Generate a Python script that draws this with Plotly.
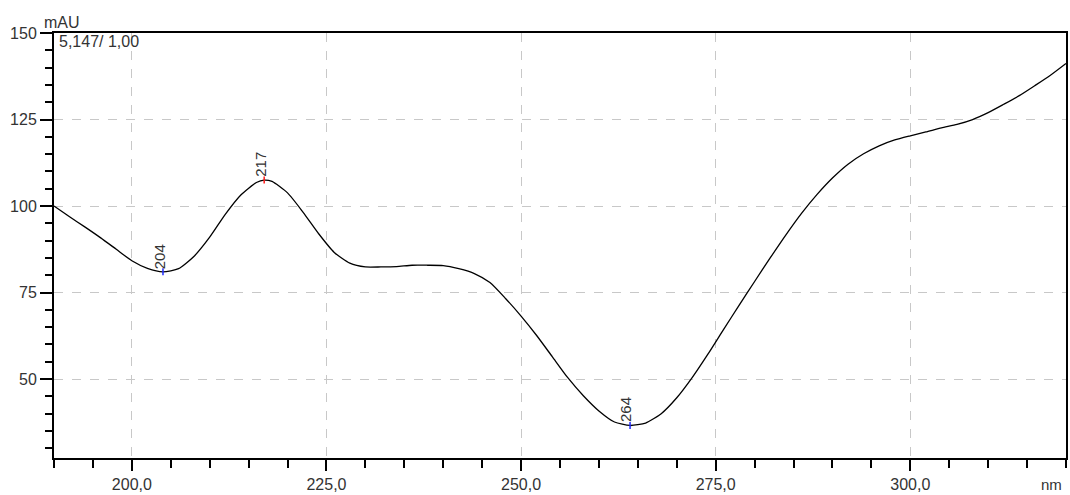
import plotly.graph_objects as go

# UV absorbance spectrum (wavelength in nm, absorbance in mAU)
wavelength = [190, 192, 194, 196, 198, 200, 202, 204, 206, 208, 210, 212, 214, 216, 217,
              218, 220, 222, 224, 226, 228, 230, 232, 234, 236, 238, 240, 242, 244, 246,
              248, 250, 252, 254, 256, 258, 260, 262, 264, 266, 268, 270, 272, 274, 276,
              278, 280, 282, 284, 286, 288, 290, 292, 294, 296, 298, 300, 302, 304, 306,
              308, 310, 312, 314, 316, 318, 320]
absorbance = [100.0, 96.9, 93.9, 90.8, 87.5, 84.2, 82.0, 81.0, 81.9, 85.5, 91.0, 97.6, 103.2, 106.8, 107.5,
              107.1, 103.8, 98.2, 92.0, 86.6, 83.5, 82.4, 82.4, 82.5, 82.9, 82.9, 82.8, 81.9, 80.5, 77.9,
              73.3, 68.2, 62.6, 56.5, 50.4, 45.2, 40.8, 37.6, 36.6, 37.3, 40.0, 44.6, 50.5, 57.2, 64.3,
              71.3, 78.2, 85.0, 91.6, 97.8, 103.3, 108.1, 112.1, 115.1, 117.4, 119.1, 120.3, 121.4, 122.6, 123.6,
              125.0, 127.0, 129.4, 131.9, 134.8, 137.8, 141.2]

# Labelled extrema: wavelength, absorbance, marker colour
peak_nm = [204, 217, 264]
peak_au = [81.0, 107.5, 36.6]
peak_colors = ["#1f2bff", "#ff1a1a", "#1f2bff"]

x_tick_vals = [200, 225, 250, 275, 300]
x_tick_text = ["200,0", "225,0", "250,0", "275,0", "300,0"]
y_tick_vals = [50, 75, 100, 125, 150]
y_tick_text = ["50", "75", "100", "125", "150"]

FONT = "Liberation Sans, Arial, sans-serif"
TXT = "#333333"

fig = go.Figure()
fig.add_trace(go.Scatter(
    x=wavelength, y=absorbance, mode="lines",
    line=dict(color="black", width=1.3, shape="spline", smoothing=0.6),
    hoverinfo="skip", showlegend=False,
))
fig.add_trace(go.Scatter(
    x=peak_nm, y=peak_au, mode="markers",
    marker=dict(symbol="line-ns", size=5, line=dict(color=peak_colors, width=1.5)),
    hoverinfo="skip", showlegend=False,
))

for nm, au in zip(peak_nm, peak_au):
    fig.add_annotation(
        x=nm, y=au, text=str(nm), showarrow=False, textangle=-90,
        xanchor="center", yanchor="bottom", xshift=-4, yshift=1,
        font=dict(family=FONT, size=15, color=TXT),
    )

fig.add_annotation(
    xref="paper", yref="paper", x=0, y=1, xshift=-12, yshift=0,
    xanchor="left", yanchor="bottom", text="mAU", showarrow=False,
    font=dict(family=FONT, size=16, color=TXT),
)
fig.add_annotation(
    xref="paper", yref="paper", x=0, y=1, xshift=3, yshift=2,
    xanchor="left", yanchor="top", text="5,147/ 1,00", showarrow=False,
    font=dict(family=FONT, size=16, color=TXT),
)
fig.add_annotation(
    xref="paper", yref="paper", x=1, y=0, xshift=-2, yshift=-16,
    xanchor="right", yanchor="top", text="nm", showarrow=False,
    font=dict(family=FONT, size=15, color=TXT),
)

grid = dict(showgrid=True, gridcolor="#c8c8c8", gridwidth=1, griddash="dash")
fig.update_xaxes(
    range=[190, 320], tickmode="array", tickvals=x_tick_vals, ticktext=x_tick_text,
    ticks="outside", ticklen=11, tickwidth=2, tickcolor="black",
    minor=dict(dtick=5, tick0=0, ticks="outside", ticklen=8, tickwidth=2, tickcolor="black"),
    showline=True, linecolor="black", linewidth=2, mirror=True, zeroline=False,
    tickfont=dict(family=FONT, size=16, color=TXT), **grid,
)
fig.update_yaxes(
    range=[27.2, 150], tickmode="array", tickvals=y_tick_vals, ticktext=y_tick_text,
    ticks="outside", ticklen=12, tickwidth=2, tickcolor="black",
    minor=dict(dtick=5, tick0=0, ticks="outside", ticklen=7, tickwidth=2, tickcolor="black"),
    showline=True, linecolor="black", linewidth=2, mirror=True, zeroline=False,
    tickfont=dict(family=FONT, size=16, color=TXT), **grid,
)
fig.update_layout(
    width=1070, height=495,
    margin=dict(l=54, r=2, t=33, b=31),
    plot_bgcolor="white", paper_bgcolor="white",
)
fig.write_html("out.html")
